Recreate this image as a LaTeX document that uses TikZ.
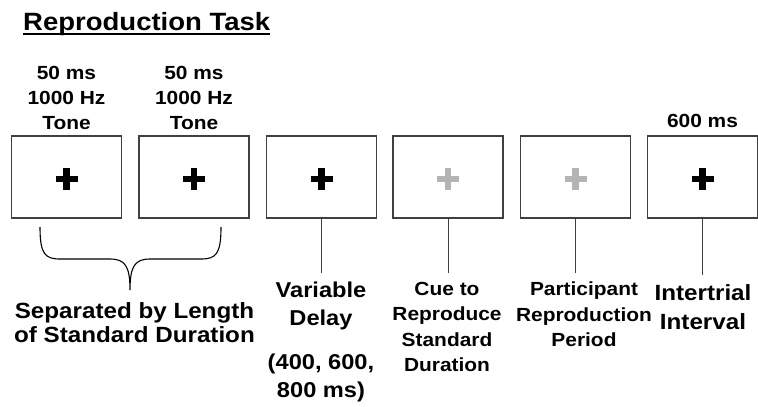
\documentclass[tikz,border=0pt]{standalone}
\usepackage{fontspec}
\setmainfont{Liberation Sans}[FakeStretch=1.1]
\usetikzlibrary{positioning}
\definecolor{frameGray}{HTML}{404040}
\definecolor{cueGray}{HTML}{B4B4B4}

\begin{document}
\begin{tikzpicture}[x=1pt, y=-1pt,
    screen/.style={rectangle, draw=frameGray, line width=1.1pt, minimum width=110pt,
      minimum height=82pt, inner sep=0pt, outer sep=0pt},
    fixcross/.style={line width=6.5pt},
    tonelab/.style={font=\bfseries\fontsize{19}{25}\selectfont, align=center, inner sep=0pt},
    evlab/.style={font=\bfseries\fontsize{19}{25.5}\selectfont, align=center, inner sep=0pt, anchor=north},
    biglab/.style={evlab, font=\bfseries\fontsize{21.5}{28}\selectfont},
    tick/.style={frameGray, line width=1pt, shorten >=9pt}
  ]
  \useasboundingbox (0,0) rectangle (758,407);

  % === Title ===
  \node[font=\bfseries\fontsize{25}{30}\selectfont, anchor=base west, inner sep=0pt] (title) at (23,30) {Reproduction Task};
  \draw[line width=1.8pt] ([yshift=-4pt]title.base west) -- ([yshift=-4pt]title.base east);

  % === Screens ===
  \foreach \i/\x in {1/66.5, 2/194, 3/321.5, 4/448, 5/575.5, 6/702.5}
    \node[screen] (s\i) at (\x,177) {};
  \foreach \i/\c in {1/black, 2/black, 3/black, 4/cueGray, 5/cueGray, 6/black}
    \draw[fixcross, \c] ([yshift=-2pt]s\i.center) +(-11,0) -- +(11,0) +(0,-11) -- +(0,11);

  % === Labels above ===
  \node[tonelab, above=6pt of s1] (tone1) {50 ms\\1000 Hz\\Tone};
  \node[tonelab, above=6pt of s2] (tone2) {50 ms\\1000 Hz\\Tone};
  \node[tonelab, above=8pt of s6] (iti) {600 ms};

  % === Labels below ===
  \node[biglab] (delay) at (321,282) {Variable\\Delay\\[16pt](400, 600,\\800 ms)};
  \node[evlab] (cue) at (447,282) {Cue to\\Reproduce\\Standard\\Duration};
  \node[evlab] (repro) at (584,282) {Participant\\Reproduction\\Period};
  \node[biglab, font=\bfseries\fontsize{22}{29}\selectfont] (inter) at (703,284) {Intertrial\\Interval};
  \node[biglab, font=\bfseries\fontsize{22}{24}\selectfont] (sep) at (134.5,302) {Separated by Length\\of Standard Duration};
  \draw[tick] (s3.south) -- (s3.south |- delay.north);
  \draw[tick] (s4.south) -- (s4.south |- cue.north);
  \draw[tick] (s5.south) -- (s5.south |- repro.north);
  \draw[tick] (s6.south) -- (s6.south |- inter.north);

  % brace under the two tones
  \draw[line width=1.1pt] (40,227) .. controls (40,254) and (45,259) .. (60,259) -- (110,259)
    .. controls (125,259) and (130,266) .. (130,290)
    .. controls (130,266) and (135,259) .. (150,259) -- (201,259)
    .. controls (216,259) and (221,254) .. (221,227);
\end{tikzpicture}
\end{document}
